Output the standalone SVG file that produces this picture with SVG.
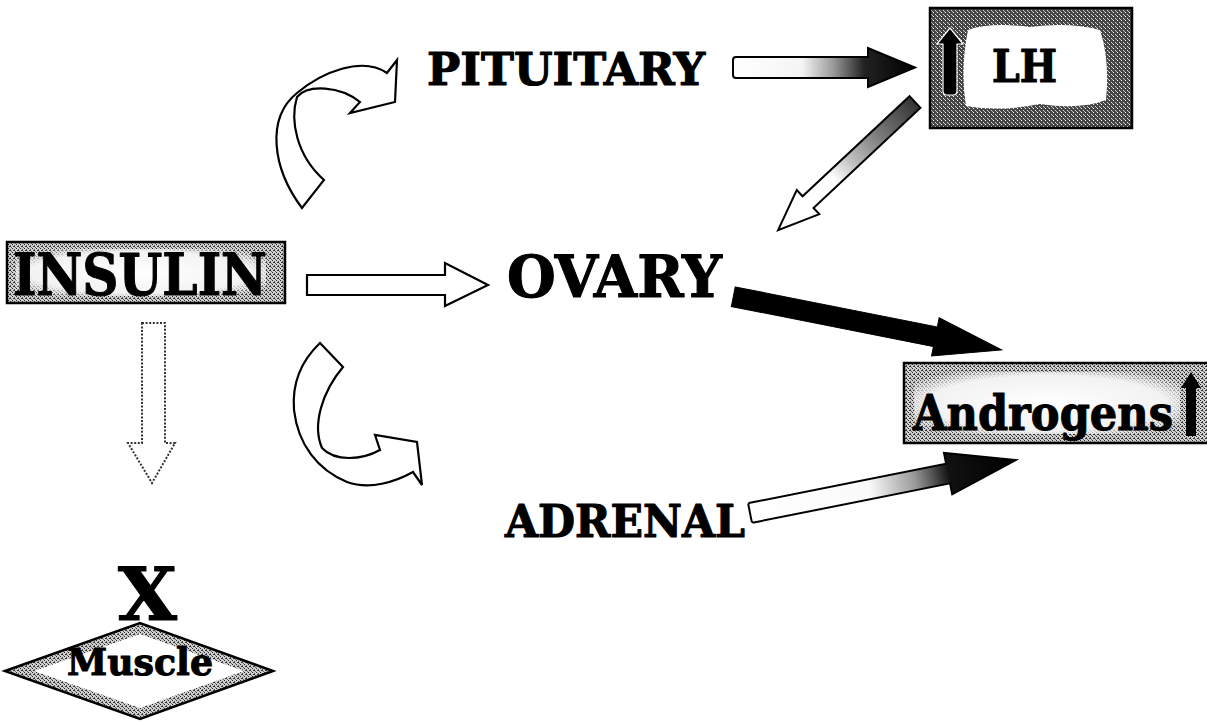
<svg xmlns="http://www.w3.org/2000/svg" width="1207" height="722" viewBox="0 0 1207 722">
<style>
  .lbl { font-family: "DejaVu Serif", "Liberation Serif", serif; font-weight: bold; fill: #000; stroke: #000; stroke-width: 1.1; stroke-linejoin: round; }
  .hollow { fill: #fff; stroke: #000; stroke-width: 2.2; stroke-linejoin: miter; }
  .box { stroke: #000; stroke-width: 2.5; }
</style>
<defs>
  <pattern id="htDark" width="4" height="4" patternUnits="userSpaceOnUse">
    <rect width="4" height="4" fill="#444"/>
    <rect x="1" y="0" width="1" height="1" fill="#fff"/>
    <rect x="3" y="2" width="1" height="1" fill="#ddd"/>
    <rect x="0" y="3" width="1" height="1" fill="#bbb"/>
  </pattern>
  <pattern id="htMid" width="4" height="4" patternUnits="userSpaceOnUse">
    <rect width="4" height="4" fill="#cfcfcf"/>
    <rect x="0" y="0" width="1" height="1" fill="#222"/>
    <rect x="2" y="1" width="1" height="1" fill="#555"/>
    <rect x="1" y="2" width="2" height="1" fill="#333"/>
    <rect x="3" y="3" width="1" height="1" fill="#666"/>
  </pattern>
  <linearGradient id="gPit" x1="0" y1="0" x2="1" y2="0">
    <stop offset="0" stop-color="#fff"/>
    <stop offset="0.38" stop-color="#f4f4f4"/>
    <stop offset="0.55" stop-color="#9a9a9a"/>
    <stop offset="0.72" stop-color="#222"/>
    <stop offset="1" stop-color="#000"/>
  </linearGradient>
  <linearGradient id="gLh" x1="0" y1="0" x2="1" y2="0">
    <stop offset="0" stop-color="#333"/>
    <stop offset="0.25" stop-color="#777"/>
    <stop offset="0.45" stop-color="#bbb"/>
    <stop offset="0.6" stop-color="#fff"/>
    <stop offset="1" stop-color="#fff"/>
  </linearGradient>
  <linearGradient id="gAdr" x1="0" y1="0" x2="1" y2="0">
    <stop offset="0" stop-color="#fff"/>
    <stop offset="0.45" stop-color="#fafafa"/>
    <stop offset="0.62" stop-color="#999"/>
    <stop offset="0.75" stop-color="#111"/>
    <stop offset="1" stop-color="#000"/>
  </linearGradient>
  <radialGradient id="gBoxIn" cx="0.5" cy="0.5" r="0.62">
    <stop offset="0" stop-color="#fff"/>
    <stop offset="0.72" stop-color="#f2f2f2"/>
    <stop offset="1" stop-color="#fff" stop-opacity="0"/>
  </radialGradient>
</defs>

<g id="connectors">
  <!-- INSULIN -> PITUITARY curved arrow -->
  <path class="hollow" d="M302,208 C272,168 266,118 297,93 C322,72 362,56 387,73 L397,60 L395,102 L350,113 L360,102 C340,86 308,84 297,97 C290,120 296,155 324,180 Z"/>
  <!-- INSULIN -> ADRENAL curved arrow -->
  <path class="hollow" d="M320,343 L343,367 C322,392 312,425 322,448 C335,462 362,460 380,450 L375,435 L417,442 L422,485 L413,472 C395,482 370,490 347,482 C318,470 298,445 294,410 C292,385 300,362 320,343 Z"/>
  <!-- INSULIN -> OVARY -->
  <path class="hollow" d="M307,275 L445,275 L445,263 L488,285 L445,306 L445,295 L307,295 Z"/>
  <!-- INSULIN -> Muscle (dotted) -->
  <path d="M142,323 L165,323 L165,443 L175,443 L152,483 L128,443 L142,443 Z" fill="#fff" stroke="#333" stroke-width="2" stroke-dasharray="2 1.6"/>
  <!-- PITUITARY -> LH -->
  <path d="M3,-10.5 L135,-10.5 L135,-19.5 L182,0 L135,19.5 L135,10.5 L3,10.5 Q0,10.5 0,7.5 L0,-7.5 Q0,-10.5 3,-10.5 Z" transform="translate(733,67.5)" fill="url(#gPit)" stroke="#000" stroke-width="2"/>
  <!-- LH -> OVARY -->
  <path d="M0,-8 L146.5,-8 L146.5,-16.5 L187.5,0 L146.5,16.5 L146.5,8 L0,8 Z" transform="translate(915,102) rotate(136.9)" fill="url(#gLh)" stroke="#000" stroke-width="2"/>
  <!-- OVARY -> Androgens -->
  <path d="M0,-10 L206,-10 L206,-19.5 L273.6,0 L206,19.5 L206,10 L0,10 Z" transform="translate(733.3,296.7) rotate(11.23)" fill="#000" stroke="#000" stroke-width="1"/>
  <!-- ADRENAL -> Androgens -->
  <path d="M2,-10 L202,-10 L202,-21 L271,0 L202,21 L202,10 L2,10 Q0,10 0,8 L0,-8 Q0,-10 2,-10 Z" transform="translate(750,513) rotate(-11.27)" fill="url(#gAdr)" stroke="#000" stroke-width="2"/>
</g>

<g id="insulin">
  <rect class="box" x="7" y="242" width="278" height="61" fill="url(#htMid)"/>
  <rect x="16" y="249" width="250" height="47" rx="6" fill="url(#gBoxIn)"/>
  <text class="lbl" x="13" y="295" font-size="58" textLength="254" lengthAdjust="spacingAndGlyphs">INSULIN</text>
</g>

<g id="pituitary">
  <text class="lbl" x="427" y="85" font-size="45" textLength="278" lengthAdjust="spacingAndGlyphs">PITUITARY</text>
</g>

<g id="lh">
  <rect class="box" x="930" y="8" width="202" height="120" fill="url(#htDark)"/>
  <path d="M968,30 Q990,22 1030,27 Q1070,22 1100,30 Q1110,60 1106,100 Q1080,110 1040,104 Q1000,112 966,106 Q960,70 968,30 Z" fill="#fff"/>
  <path d="M943,91 L943,44 L937,44 L950,28 L963,44 L957,44 L957,91 Q957,95 953,95 L947,95 Q943,95 943,91 Z" fill="#000" stroke="#fff" stroke-width="1.2"/>
  <text class="lbl" x="992" y="82" font-size="44" textLength="65" lengthAdjust="spacingAndGlyphs">LH</text>
</g>

<g id="ovary">
  <text class="lbl" x="507" y="297" font-size="58" textLength="215" lengthAdjust="spacingAndGlyphs">OVARY</text>
</g>

<g id="androgens">
  <rect class="box" x="904" y="363" width="306" height="80" fill="url(#htMid)"/>
  <rect x="914" y="372" width="266" height="62" rx="6" fill="url(#gBoxIn)"/>
  <path d="M1186,436 L1186,388 L1181,388 L1191,372 L1201,388 L1196,388 L1196,436 Z" fill="#000"/>
  <text class="lbl" x="913" y="430" font-size="48" textLength="260" lengthAdjust="spacingAndGlyphs">Androgens</text>
</g>

<g id="adrenal">
  <text class="lbl" x="505" y="537" font-size="45" textLength="240" lengthAdjust="spacingAndGlyphs">ADRENAL</text>
</g>

<g id="muscle">
  <text class="lbl" x="118" y="620" font-size="72" textLength="59" lengthAdjust="spacingAndGlyphs">X</text>
  <path d="M5,671 L140,623 L273,671 L140,719 Z" fill="url(#htMid)" stroke="#000" stroke-width="2.5"/>
  <path d="M34,671 L140,634 L244,671 L140,708 Z" fill="#fff"/>
  <text class="lbl" x="67" y="675" font-size="38" textLength="146" lengthAdjust="spacingAndGlyphs">Muscle</text>
</g>
</svg>
